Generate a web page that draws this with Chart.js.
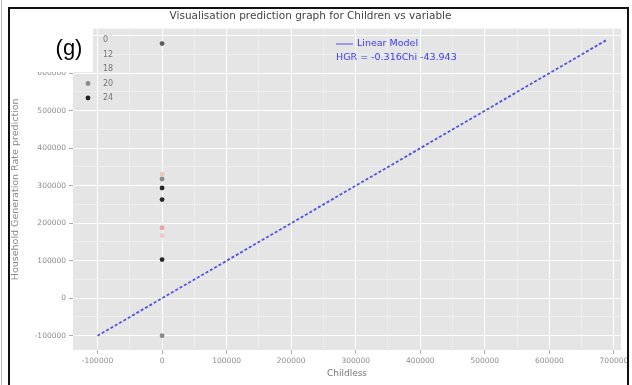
<!DOCTYPE html>
<html>
<head>
<meta charset="utf-8">
<script src="https://cdn.jsdelivr.net/npm/chart.js@4.4.1/dist/chart.umd.min.js"></script>
<style>
  html, body { margin: 0; padding: 0; background: #ffffff; }
  #wrap { width: 632px; height: 385px; position: relative; }
</style>
</head>
<body>
<div id="wrap"><canvas id="c" width="632" height="385"></canvas></div>
<script>
// Group labels shown in the in-plot legend
const groupLabels = ['0', '12', '18', '20', '24'];
// Predicted rate for each group (all observed at Childless = 0)
const group0  = [679000];
const group12 = [331000, 167000];
const group18 = [188000];
const group20 = [318000, -100000];
const group24 = [294000, 263000, 103000];
const groupColors = ['#5a5a5a', '#f2c4c4', '#e8a2a2', '#8a8a8a', '#262626'];

// Linear model line endpoints (x, y)
const lineX = [-100000, 690000];
const lineY = [-100000, 690000];

// Axis ranges, labelled tick step and minor grid step
const xRange = [-138000, 711000];
const yRange = [-138000, 719000];
const tickStep = 100000;
const minorStep = 50000;

const groups = [group0, group12, group18, group20, group24];
const scatterSets = groups.map((vals, i) => ({
  type: 'scatter',
  label: groupLabels[i],
  data: vals.map(v => ({ x: 0, y: v })),
  backgroundColor: groupColors[i],
  borderColor: groupColors[i],
  pointRadius: 2.4,
  borderWidth: 0
}));

const lineSet = {
  type: 'line',
  label: 'Linear Model',
  data: lineX.map((x, i) => ({ x: x, y: lineY[i] })),
  borderColor: '#5252e0',
  borderWidth: 1.8,
  borderDash: [3, 2],
  pointRadius: 0,
  fill: false,
  order: 10
};

const frame = {
  id: 'frame',
  beforeDraw(chart) {
    const { ctx, chartArea: a } = chart;
    ctx.save();
    ctx.fillStyle = '#ffffff';
    ctx.fillRect(0, 0, chart.width, chart.height);
    ctx.fillStyle = '#e5e5e5';
    ctx.fillRect(a.left, a.top, a.right - a.left, a.bottom - a.top);
    ctx.restore();
  },
  afterDraw(chart) {
    const { ctx } = chart;
    ctx.save();
    // in-plot group legend
    ctx.font = '8px "DejaVu Sans"';
    ctx.textBaseline = 'middle';
    groupLabels.forEach((lab, i) => {
      const y = 40 + i * 14.5;
      ctx.fillStyle = groupColors[i];
      ctx.beginPath();
      ctx.arc(88, y, 2.4, 0, Math.PI * 2);
      ctx.fill();
      ctx.fillStyle = '#777777';
      ctx.fillText(lab, 103, y);
    });
    // linear model legend
    ctx.strokeStyle = '#5252e0';
    ctx.lineWidth = 1;
    ctx.beginPath();
    ctx.moveTo(336, 44);
    ctx.lineTo(353, 44);
    ctx.stroke();
    ctx.fillStyle = '#3b3bf0';
    ctx.font = '9.5px "DejaVu Sans"';
    ctx.fillText('Linear Model', 357, 44);
    ctx.fillText('HGR = -0.316Chi -43.943', 336, 58);
    // panel tag
    ctx.fillStyle = '#ffffff';
    ctx.fillRect(34, 27, 59, 45);
    ctx.fillStyle = '#000000';
    ctx.font = '22px "Liberation Sans"';
    ctx.textAlign = 'center';
    ctx.fillText('(g)', 69, 49);
    // outer frame
    ctx.strokeStyle = '#111111';
    ctx.lineWidth = 2;
    ctx.strokeRect(9, 8, 619, 400);
    ctx.strokeStyle = '#bbbbbb';
    ctx.lineWidth = 1;
    ctx.beginPath();
    ctx.moveTo(1.5, 0);
    ctx.lineTo(1.5, 385);
    ctx.stroke();
    ctx.restore();
  }
};

// Ticks every minor step inside the axis range; only major steps get labels
function stepTicks(scale) {
  const out = [];
  const start = Math.ceil(scale.min / minorStep) * minorStep;
  for (let v = start; v <= scale.max; v += minorStep) out.push({ value: v });
  scale.ticks = out;
}
const isMajor = v => Math.abs(v / tickStep - Math.round(v / tickStep)) < 1e-6;

const tickFont = { family: 'DejaVu Sans', size: 7.5 };
const gridOpts = {
  color: c => (c.tick && isMajor(c.tick.value)) ? '#ffffff' : '#eeeeee',
  tickColor: c => (c.tick && isMajor(c.tick.value)) ? '#aaaaaa' : 'rgba(0,0,0,0)',
  tickLength: 4,
  lineWidth: 1
};

new Chart(document.getElementById('c'), {
  data: { datasets: [lineSet, ...scatterSets] },
  options: {
    responsive: false,
    animation: false,
    layout: { padding: { left: 0, right: 11, top: 0, bottom: 0 } },
    plugins: {
      legend: { display: false },
      tooltip: { enabled: false },
      title: {
        display: true,
        text: 'Visualisation prediction graph for Children vs variable',
        color: '#444444',
        font: { family: 'DejaVu Sans', size: 10.5, weight: 'normal' },
        padding: { top: 10, bottom: 6 }
      }
    },
    scales: {
      x: {
        type: 'linear',
        min: xRange[0], max: xRange[1],
        afterBuildTicks: stepTicks,
        afterFit(s) { s.height = 35; },
        ticks: {
          autoSkip: false, maxRotation: 0,
          color: '#8c8c8c', font: tickFont, padding: 3,
          callback: v => isMajor(v) ? String(v) : ''
        },
        grid: gridOpts,
        border: { display: false },
        title: {
          display: true, text: 'Childless', color: '#777777',
          font: { family: 'DejaVu Sans', size: 9 }, padding: { top: 0, bottom: 6 }
        }
      },
      y: {
        type: 'linear',
        min: yRange[0], max: yRange[1],
        afterBuildTicks: stepTicks,
        afterFit(s) { s.width = 73; },
        ticks: {
          autoSkip: false,
          color: '#8c8c8c', font: tickFont, padding: 3,
          callback: v => isMajor(v) ? String(v) : ''
        },
        grid: gridOpts,
        border: { display: false },
        title: {
          display: true, text: 'Household Generation Rate prediction', color: '#8a8a8a',
          font: { family: 'DejaVu Sans', size: 9.5 }, padding: { top: 10, bottom: 0 }
        }
      }
    }
  },
  plugins: [frame]
});
</script>
</body>
</html>
